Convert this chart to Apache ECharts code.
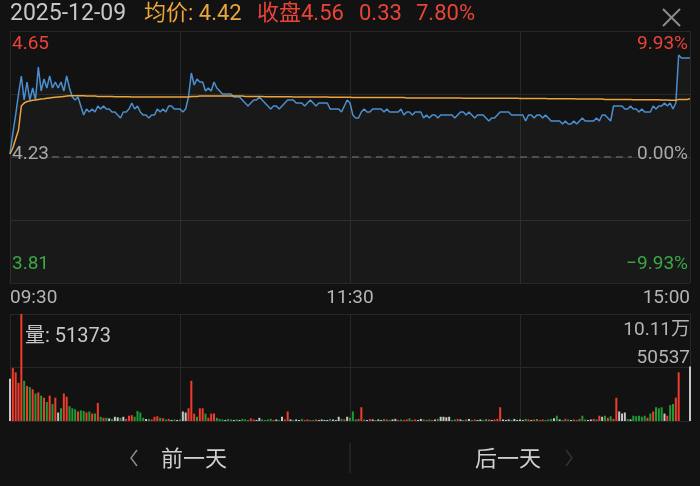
<!DOCTYPE html>
<html><head><meta charset="utf-8">
<script src="https://cdn.jsdelivr.net/npm/echarts@6/dist/echarts.min.js"></script>
<style>html,body{margin:0;padding:0;background:#121212;}#c{width:700px;height:486px;}</style>
</head><body><div id="c"></div>
<script>
// ---------- data ----------
const tradeDate = '2025-12-09';
const prevClose = 4.23;
const priceMax = 4.65, priceMin = 3.81;
const priceLabels = ['4.65', '4.23', '3.81'];
const pctLabels = ['9.93%', '0.00%', '\u22129.93%'];
const timeTicks = ['09:30', '11:30', '15:00'];
const headAvg = '4.42', headClose = '4.56', headChg = '0.33', headPct = '7.80%';
const volMax = 101074;
const volLabels = ['10.11万', '50537'];
const lastVol = '51373';

const times = [];
(function () {
  const f = m => String(Math.floor(m / 60)).padStart(2, '0') + ':' + String(m % 60).padStart(2, '0');
  for (let m = 570; m <= 690; m++) times.push(f(m));
  for (let m = 781; m <= 900; m++) times.push(f(m));
})();

const price = [
4.24,4.31,4.37,4.44,4.50,4.42,4.48,4.42,4.46,4.42,
4.53,4.45,4.49,4.46,4.50,4.46,4.48,4.46,4.48,4.45,
4.50,4.46,4.43,4.42,4.43,4.40,4.37,4.39,4.38,4.39,
4.38,4.40,4.39,4.40,4.39,4.39,4.38,4.38,4.37,4.36,
4.38,4.38,4.39,4.41,4.39,4.40,4.38,4.37,4.37,4.36,
4.37,4.37,4.39,4.38,4.39,4.38,4.40,4.40,4.39,4.39,
4.39,4.38,4.39,4.43,4.51,4.47,4.49,4.48,4.48,4.45,
4.46,4.45,4.48,4.46,4.45,4.44,4.44,4.44,4.44,4.43,
4.43,4.43,4.42,4.41,4.40,4.41,4.42,4.42,4.43,4.42,
4.41,4.40,4.39,4.40,4.40,4.39,4.40,4.41,4.42,4.42,
4.42,4.41,4.41,4.41,4.40,4.41,4.42,4.41,4.40,4.41,
4.41,4.41,4.41,4.39,4.39,4.39,4.39,4.38,4.40,4.42,
4.41,4.37,4.36,4.36,4.38,4.39,4.38,4.38,4.39,4.39,
4.39,4.39,4.38,4.39,4.38,4.38,4.38,4.38,4.39,4.37,
4.38,4.38,4.37,4.38,4.38,4.38,4.36,4.37,4.36,4.37,
4.37,4.36,4.37,4.37,4.37,4.37,4.37,4.36,4.37,4.38,
4.38,4.37,4.38,4.37,4.36,4.37,4.37,4.37,4.36,4.35,
4.36,4.36,4.37,4.38,4.38,4.38,4.38,4.37,4.37,4.37,
4.37,4.37,4.35,4.37,4.37,4.36,4.37,4.37,4.36,4.37,
4.36,4.35,4.35,4.35,4.35,4.34,4.35,4.34,4.34,4.35,
4.34,4.35,4.36,4.35,4.35,4.35,4.35,4.36,4.35,4.37,
4.37,4.36,4.35,4.40,4.40,4.40,4.40,4.39,4.39,4.40,
4.39,4.39,4.38,4.39,4.38,4.38,4.38,4.40,4.39,4.40,
4.40,4.41,4.40,4.41,4.39,4.41,4.57,4.56,4.56,4.56,
4.56];

const avgPrice = [
4.240,4.260,4.290,4.320,4.400,4.410,4.415,4.417,4.419,4.420,
4.422,4.423,4.424,4.426,4.427,4.428,4.429,4.430,4.431,4.432,
4.433,4.434,4.434,4.434,4.434,4.434,4.434,4.433,4.433,4.433,
4.433,4.432,4.432,4.432,4.432,4.432,4.432,4.431,4.431,4.431,
4.431,4.431,4.431,4.430,4.430,4.430,4.430,4.430,4.430,4.430,
4.430,4.430,4.430,4.430,4.430,4.430,4.430,4.430,4.430,4.430,
4.430,4.430,4.430,4.430,4.432,4.432,4.432,4.433,4.433,4.433,
4.433,4.433,4.433,4.433,4.433,4.433,4.433,4.433,4.433,4.433,
4.433,4.433,4.433,4.432,4.432,4.432,4.432,4.432,4.432,4.432,
4.431,4.431,4.431,4.431,4.431,4.431,4.431,4.431,4.431,4.431,
4.430,4.430,4.430,4.430,4.430,4.430,4.430,4.430,4.430,4.430,
4.430,4.430,4.430,4.429,4.429,4.429,4.429,4.429,4.429,4.429,
4.429,4.428,4.428,4.428,4.428,4.428,4.428,4.428,4.428,4.428,
4.428,4.428,4.428,4.428,4.428,4.428,4.428,4.428,4.428,4.428,
4.427,4.427,4.427,4.427,4.427,4.427,4.427,4.427,4.427,4.427,
4.427,4.427,4.427,4.427,4.427,4.427,4.427,4.427,4.427,4.427,
4.426,4.426,4.426,4.426,4.426,4.426,4.426,4.426,4.426,4.426,
4.426,4.426,4.426,4.426,4.426,4.426,4.426,4.426,4.426,4.426,
4.425,4.425,4.425,4.425,4.425,4.425,4.425,4.425,4.425,4.425,
4.424,4.424,4.424,4.424,4.424,4.424,4.424,4.424,4.424,4.424,
4.423,4.423,4.423,4.423,4.423,4.423,4.423,4.423,4.423,4.423,
4.422,4.422,4.422,4.422,4.422,4.422,4.422,4.422,4.422,4.422,
4.421,4.421,4.421,4.421,4.421,4.421,4.421,4.421,4.421,4.421,
4.420,4.420,4.420,4.419,4.419,4.419,4.422,4.422,4.422,4.422,
4.424];

const volume = [
40000,50000,46000,36000,101074,38000,33000,32000,30000,26000,
27000,24000,22000,18000,24000,16000,22000,8000,12000,26000,
23000,14000,12000,11000,9000,10000,9500,8000,9000,7000,
7000,17000,4000,3000,3000,2500,2000,4000,3500,3000,
4000,2000,5000,5500,4000,9500,8000,3000,2000,2000,
1500,4000,4500,3000,2500,1500,2000,1000,1500,1000,
1500,9000,8000,12000,38000,7000,4000,12000,12000,7000,
3000,7000,7000,3000,2000,1500,1000,2000,1500,1000,
1500,1000,2000,1500,1000,2500,1500,1000,3000,1500,
1000,1500,2000,1000,1500,1000,4000,1500,9000,1500,
1000,1500,1000,2000,1000,1500,1000,1000,1500,1000,
1500,1000,1000,2000,1500,1000,4000,2000,1500,4000,
3000,9000,1500,2000,13000,1500,1000,2000,1500,1000,
1500,1000,2000,1500,1000,1500,2000,1000,1500,1000,
1500,2500,1000,1500,1000,2000,1500,1000,1500,1000,
1500,2000,4000,4000,3500,4000,1000,1500,2000,1500,
1000,1500,2000,1000,1500,1000,1500,1000,2000,1500,
1000,1500,2000,13000,1500,1000,1500,1000,2000,1000,
1500,1000,2000,1500,1000,1500,2000,1000,1500,1000,
1500,2000,2500,5000,1500,1000,2000,1500,1000,1500,
1000,2000,5000,1500,1000,1500,2000,1500,5000,4000,
5000,3000,4500,2000,22000,9000,7000,8000,2000,1500,
5000,4500,5000,4000,5000,3000,7000,9000,13000,12000,
13000,7000,5000,15000,16000,22000,46000,0,0,0,
51373];

// u = up (red), d = down (green), f = flat (grey)
const volDir = [
'fuuuududud','udududufdu','uddduddudu','dududfdffd','fuuuddddfd',
'uuududufdf','dffuuuduud','uuudddfddf','dfddduuffd','dddufdfuuf',
'dffduudduf','fffdfffduf','ddduudfufd','ffdudffudu','uduuffdudu',
'fdffffdduf','dufduffddu','fuuufffdff','ffdufdudud','ddfdfdudfu',
'duddffuduf','duduufffdf','dddddududd','dfudduufff','f'].join('');

// ---------- style ----------
const C = {
  bg: '#121212', grid: '#272727', red: '#ea4438', green: '#3aa845', grey: '#a9a9a9',
  orange: '#eba53c', blue: '#4b8fcf', barRed: '#f03c2c', barGreen: '#1f9a34', barGrey: '#c6c6c6'
};
const FONT = 'Roboto, "Noto Sans CJK SC", sans-serif';
const PT = 31, PH = 252, VT = 314, VH = 107, GL = 10, GR = 10;

const chart = echarts.init(document.getElementById('c'), null, { renderer: 'canvas' });
const gridAxisX = gi => ({ type: 'value', gridIndex: gi, min: 0, max: 240, interval: 60,
  axisLine: { show: false }, axisTick: { show: false }, axisLabel: { show: false },
  splitLine: { show: true, lineStyle: { color: C.grid, width: 1 } } });
const gridAxisY = (gi, n) => ({ type: 'value', gridIndex: gi, min: 0, max: n, interval: 1,
  axisLine: { show: false }, axisTick: { show: false }, axisLabel: { show: false },
  splitLine: { show: true, lineStyle: { color: C.grid, width: 1 } } });
const barColor = { u: C.barRed, d: C.barGreen, f: C.barGrey };

chart.setOption({
  backgroundColor: C.bg,
  animation: false,
  grid: [
    { left: GL, right: GR, top: PT, height: PH },
    { left: GL, right: GR, top: VT, height: VH }
  ],
  xAxis: [
    { type: 'category', gridIndex: 0, data: times, boundaryGap: false, show: false },
    gridAxisX(0),
    { type: 'category', gridIndex: 1, data: times, boundaryGap: false, show: false },
    gridAxisX(1)
  ],
  yAxis: [
    { type: 'value', gridIndex: 0, min: priceMin, max: priceMax, show: false, splitLine: { show: false } },
    gridAxisY(0, 4),
    { type: 'value', gridIndex: 1, min: 0, max: volMax, show: false, splitLine: { show: false } },
    gridAxisY(1, 2)
  ],
  series: [
    { type: 'line', xAxisIndex: 0, yAxisIndex: 0, data: price, symbol: 'none', z: 3,
      lineStyle: { color: C.blue, width: 1.5 },
      areaStyle: { color: 'rgba(255,255,255,0.045)', origin: 'start' } },
    { type: 'line', xAxisIndex: 0, yAxisIndex: 0, data: avgPrice, symbol: 'none', z: 4,
      lineStyle: { color: C.orange, width: 1.5 } },
    { type: 'bar', xAxisIndex: 2, yAxisIndex: 2, barWidth: 2, z: 3,
      data: volume.map((v, i) => ({ value: v, itemStyle: { color: barColor[volDir[i]] || C.barGrey } })) }
  ]
});

// ---------- texts and decorations ----------
const py = v => chart.convertToPixel({ yAxisIndex: 0 }, v);
const vy = v => chart.convertToPixel({ yAxisIndex: 2 }, v);
const tx = i => chart.convertToPixel({ xAxisIndex: 0 }, i);
const xL = tx(0), xR = tx(240), xM = tx(120);
const yTop = py(priceMax), yMid = py(prevClose), yBot = py(priceMin);
const vTop = vy(volMax), vMid = vy(volMax / 2);

function T(text, x, y, color, size, align, extra) {
  return Object.assign({ type: 'text', z: 100, x: x, y: y,
    style: { text: text, fill: color, font: size + 'px ' + FONT, align: align || 'left', verticalAlign: 'middle' } }, extra || {});
}
const g = [];
// header
g.push(T(tradeDate, 10, 14, '#c8c8c8', 23));
g.push(T('均价: ' + headAvg, 144, 14, C.orange, 22));
g.push(T('收盘' + headClose, 257, 14, C.red, 22));
g.push(T(headChg, 359, 14, C.red, 22));
g.push(T(headPct, 416, 14, C.red, 22));
g.push({ type: 'line', z: 100, shape: { x1: 663, y1: 9, x2: 680, y2: 26 }, style: { stroke: '#8d8d8d', lineWidth: 2 } });
g.push({ type: 'line', z: 100, shape: { x1: 680, y1: 9, x2: 663, y2: 26 }, style: { stroke: '#8d8d8d', lineWidth: 2 } });
// prev close dashed line
g.push({ type: 'line', z: 50, shape: { x1: 52, y1: yMid, x2: 632, y2: yMid },
  style: { stroke: '#5e5e5e', lineWidth: 1.5, lineDash: [7, 5] } });
// price labels
g.push(T(priceLabels[0], 12, yTop + 13, C.red, 19));
g.push(T(priceLabels[1], 12, yMid - 3, C.grey, 19));
g.push(T(priceLabels[2], 12, yBot - 18.5, C.green, 19));
g.push(T(pctLabels[0], 688, yTop + 13, C.red, 19, 'right'));
g.push(T(pctLabels[1], 688, yMid - 3, C.grey, 19, 'right'));
g.push(T(pctLabels[2], 688, yBot - 18.5, C.green, 19, 'right'));
// time labels
g.push(T(timeTicks[0], xL, yBot + 15, '#b5b5b5', 19, 'left'));
g.push(T(timeTicks[1], xM, yBot + 15, '#b5b5b5', 19, 'center'));
g.push(T(timeTicks[2], xR, yBot + 15, '#b5b5b5', 19, 'right'));
// volume labels
g.push(T('量: ' + lastVol, 25, 337, '#c8c8c8', 20));
g.push(T(volLabels[0], xR, vTop + 16, '#b5b5b5', 19, 'right'));
g.push(T(volLabels[1], xR, vMid - 9, '#b5b5b5', 19, 'right'));
// bottom nav
g.push({ type: 'polyline', z: 100, shape: { points: [[137, 450], [131, 458], [137, 466]] }, style: { stroke: '#8a8a8a', lineWidth: 1.5, fill: null } });
g.push(T('前一天', 161, 460, '#cfcfcf', 22));
g.push({ type: 'line', z: 100, shape: { x1: 350, y1: 443, x2: 350, y2: 473 }, style: { stroke: '#333333', lineWidth: 1 } });
g.push(T('后一天', 475, 460, '#cfcfcf', 22));
g.push({ type: 'polyline', z: 100, shape: { points: [[566, 450], [572, 458], [566, 466]] }, style: { stroke: '#333333', lineWidth: 1.5, fill: null } });

chart.setOption({ graphic: g });
</script>
</body></html>
